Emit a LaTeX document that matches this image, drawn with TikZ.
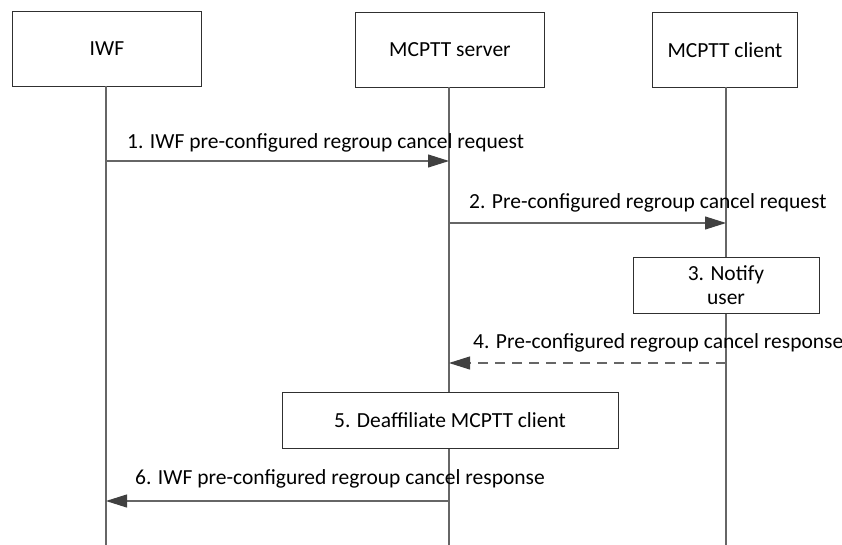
\documentclass[tikz,border=0pt]{standalone}
\usepackage{fontspec}
\setmainfont{Carlito}
\usetikzlibrary{arrows.meta}
\definecolor{lifeC}{HTML}{666666}
\definecolor{tipC}{HTML}{404040}
\definecolor{boxC}{HTML}{303030}
\begin{document}
\begin{tikzpicture}[x=1pt,y=-1pt,
  every node/.style={font=\fontsize{21.5}{25}\selectfont, text=black, inner sep=0pt},
  entity/.style={draw=boxC, line width=0.9pt, fill=white, anchor=north west},
  life/.style={draw=lifeC, line width=1.1pt},
  msg/.style={draw=lifeC, line width=1.1pt, -{Triangle[length=21pt,width=13pt,fill=tipC,color=tipC]}},
  reply/.style={msg, dash pattern=on 10pt off 7pt},
  lbl/.style={anchor=west}]
\useasboundingbox (0,0) rectangle (842,545);
% entity boxes
\node[entity, minimum width=189pt, minimum height=75pt] (iwf) at (12,11) {};
\node at (iwf.center) {IWF};
\node[entity, minimum width=189pt, minimum height=75pt] (srv) at (355,12) {};
\node at (srv.center) {MCPTT server};
\node[entity, minimum width=145pt, minimum height=75pt] (cli) at (652,12) {};
\node at (cli.center) {MCPTT client};
% lifeline ends
\coordinate (iwfEnd) at (106,545);
\coordinate (srvEnd) at (449,545);
\coordinate (cliEnd) at (726,545);
\coordinate (iwfTop) at (106,86);
\coordinate (srvTop) at (449,87);
\coordinate (cliTop) at (726,87);
\draw[life] (iwfTop) -- (iwfEnd);
\draw[life] (srvTop) -- (srvEnd);
\draw[life] (cliTop) -- (cliEnd);
% process boxes
\node[draw=boxC, line width=0.9pt, fill=white, minimum width=186pt, minimum height=56pt, align=center] (notify) at (726,285) {3. Notify\\[-1pt]user};
\node[draw=boxC, line width=0.9pt, fill=white, minimum width=336pt, minimum height=56pt] (deaff) at (450,420) {5. Deaffiliate MCPTT client};
% message anchor points
\coordinate (m1a) at (106,161); \coordinate (m1b) at (449,161);
\coordinate (m2a) at (449,223); \coordinate (m2b) at (726,223);
\coordinate (m4a) at (726,363); \coordinate (m4b) at (449,363);
\coordinate (m6a) at (449,501); \coordinate (m6b) at (106,501);
\draw[msg] (m1a) -- (m1b);
\draw[msg] (m2a) -- (m2b);
\draw[reply] (m4a) -- (m4b);
\draw[msg] (m6a) -- (m6b);
% labels
\node[lbl] (l1) at (127,143) {1. IWF pre-configured regroup cancel request};
\node[lbl] (l2) at (469,203) {2. Pre-configured regroup cancel request};
\node[lbl] (l4) at (473,343) {4. Pre-configured regroup cancel response};
\node[lbl] (l6) at (135,479) {6. IWF pre-configured regroup cancel response};
\end{tikzpicture}
\end{document}
